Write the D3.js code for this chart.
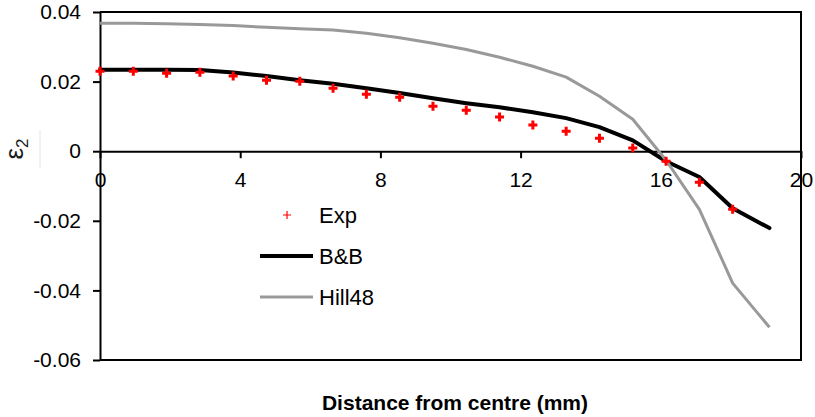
<!DOCTYPE html>
<html>
<head>
<meta charset="utf-8">
<script src="https://cdn.jsdelivr.net/npm/d3@7"></script>
<style>
  html, body { margin: 0; padding: 0; background: #fff; }
  svg { display: block; font-family: "Liberation Sans", Arial, sans-serif; }
</style>
</head>
<body>
<svg id="chart" width="815" height="417"></svg>
<script>
// Distance from centre (mm) at each measured station
const distance = [0, 0.95, 1.9, 2.85, 3.8, 4.75, 5.7, 6.65, 7.6, 8.55,
                  9.5, 10.45, 11.4, 12.35, 13.3, 14.25, 15.2, 16.15, 17.1, 18.05];
// Experimental minor strain
const expStrain = [0.0230, 0.0230, 0.0224, 0.0227, 0.0216, 0.0204, 0.0201, 0.0181, 0.0164, 0.0155,
                   0.0129, 0.0118, 0.0098, 0.0075, 0.0057, 0.0037, 0.0009, -0.0029, -0.0089, -0.0167];
// Model predictions (one extra station at the edge)
const modelDistance = [0, 0.95, 1.9, 2.85, 3.8, 4.75, 5.7, 6.65, 7.6, 8.55,
                       9.5, 10.45, 11.4, 12.35, 13.3, 14.25, 15.2, 16.15, 17.1, 18.05, 19.1];
const bbStrain = [0.0234, 0.0234, 0.0234, 0.0233, 0.0226, 0.0216, 0.0204, 0.0194, 0.0181, 0.0167,
                  0.0152, 0.0138, 0.0126, 0.0112, 0.0095, 0.0069, 0.0031, -0.0029, -0.0074, -0.0164, -0.0221];
const hillStrain = [0.0368, 0.0368, 0.0366, 0.0364, 0.0361, 0.0356, 0.0352, 0.0348, 0.0339, 0.0326,
                    0.0310, 0.0292, 0.0270, 0.0244, 0.0213, 0.0158, 0.0092, -0.0026, -0.0167, -0.0379, -0.0506];
// Axis ticks
const xTicks = [0, 4, 8, 12, 16, 20];
const yTicks = [-0.06, -0.04, -0.02, 0, 0.02, 0.04];
const yTickLabels = ["-0.06", "-0.04", "-0.02", "0", "0.02", "0.04"];
const seriesNames = ["Exp", "B&B", "Hill48"];

const svg = d3.select("#chart");
const plotLeft = 100, plotRight = 801, plotTop = 12, plotBottom = 360;

const x = d3.scaleLinear().domain([0, 20]).range([plotLeft, plotRight]);
const y = d3.scaleLinear().domain([-0.06, 0.04]).range([plotBottom, plotTop]);

// Plot frame: top, right and bottom edges
svg.append("path")
  .attr("d", `M${plotLeft},${plotTop}H${plotRight}V${plotBottom}H${plotLeft}`)
  .attr("fill", "none").attr("stroke", "#000").attr("stroke-width", 2);

// Y axis with ticks pointing left
const yAxis = svg.append("g")
  .attr("transform", `translate(${plotLeft},0)`)
  .call(d3.axisLeft(y).tickValues(yTicks).tickSize(7).tickSizeOuter(0).tickPadding(12)
        .tickFormat((d, i) => yTickLabels[i]));
yAxis.select(".domain").attr("stroke-width", 2);
yAxis.selectAll(".tick line").attr("stroke-width", 2);
yAxis.selectAll("text").attr("font-size", 21).attr("font-family", "Liberation Sans, Arial, sans-serif")
  .attr("fill", "#000");

// X axis along the zero line
const xAxis = svg.append("g")
  .attr("transform", `translate(0,${y(0)})`)
  .call(d3.axisBottom(x).tickValues(xTicks).tickSize(7).tickSizeOuter(0).tickPadding(14)
        .tickFormat(d3.format("d")));
xAxis.select(".domain").attr("stroke-width", 2);
xAxis.selectAll(".tick line").attr("stroke-width", 2);
xAxis.selectAll("text").attr("font-size", 21).attr("font-family", "Liberation Sans, Arial, sans-serif")
  .attr("fill", "#000");

// Model curves
const modelLine = d3.line().x((d, i) => x(modelDistance[i])).y(d => y(d));
svg.append("path").datum(bbStrain)
  .attr("d", modelLine).attr("fill", "none").attr("stroke", "#000")
  .attr("stroke-width", 4).attr("stroke-linejoin", "round").attr("stroke-linecap", "round");
svg.append("path").datum(hillStrain)
  .attr("d", modelLine).attr("fill", "none").attr("stroke", "#999")
  .attr("stroke-width", 3).attr("stroke-linejoin", "round");

// Experimental markers
const plus = s => `M${-s},0H${s}M0,${-s}V${s}`;
svg.append("g").selectAll("path").data(expStrain).join("path")
  .attr("transform", (d, i) => `translate(${x(distance[i])},${y(d)})`)
  .attr("d", plus(4.5)).attr("stroke", "#ff0000").attr("stroke-width", 3);

// Legend
const legend = svg.append("g");
legend.append("path").attr("transform", "translate(287,215)")
  .attr("d", plus(4)).attr("stroke", "#ff0000").attr("stroke-width", 1.2);
legend.append("line").attr("x1", 260).attr("x2", 313).attr("y1", 256).attr("y2", 256)
  .attr("stroke", "#000").attr("stroke-width", 4);
legend.append("line").attr("x1", 260).attr("x2", 313).attr("y1", 297).attr("y2", 297)
  .attr("stroke", "#999").attr("stroke-width", 3);
legend.selectAll("text").data(seriesNames).join("text")
  .attr("x", 319).attr("y", (d, i) => 223 + i * 41)
  .attr("font-size", 22).attr("fill", "#000").text(d => d);

// Axis titles
svg.append("text").attr("x", 455).attr("y", 410).attr("text-anchor", "middle")
  .attr("font-size", 21).attr("font-weight", "bold").attr("fill", "#000")
  .text("Distance from centre (mm)");

svg.append("line").attr("x1", 40).attr("x2", 40).attr("y1", 130).attr("y2", 168)
  .attr("stroke", "#e4e4e4").attr("stroke-width", 1);

const yTitle = svg.append("text")
  .attr("transform", "translate(23,149) rotate(-90)")
  .attr("text-anchor", "middle").attr("font-size", 26).attr("fill", "#1a1a1a");
yTitle.append("tspan").text("ε");
yTitle.append("tspan").attr("font-size", 17).attr("dy", 5).text("2");
</script>
</body>
</html>
